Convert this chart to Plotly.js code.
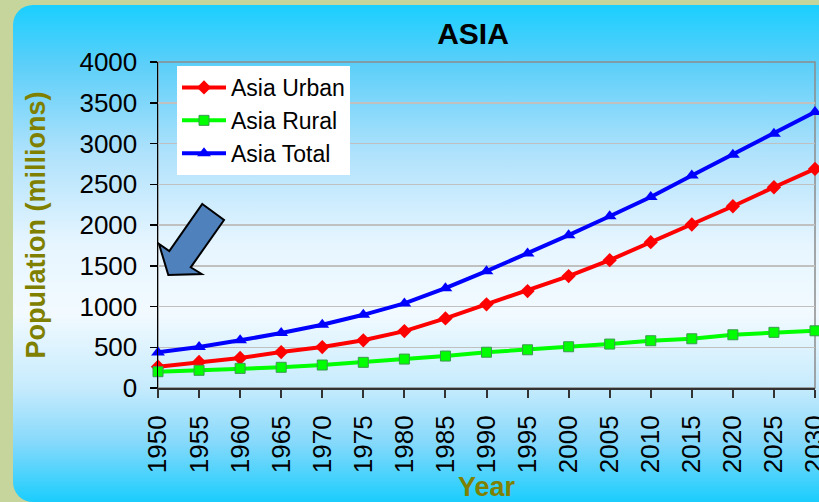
<!DOCTYPE html>
<html>
<head>
<meta charset="utf-8">
<script src="https://cdn.plot.ly/plotly-3.0.1.min.js"></script>
<style>
  html, body { margin:0; padding:0; }
  #wrap { position:relative; width:819px; height:502px; background:#c5d59b; overflow:hidden; }
  #panel { position:absolute; left:13px; top:5px; width:840px; height:497px; border-radius:20px;
    background:linear-gradient(to bottom, #1acfff 0%, #5ccff9 12%, #b0e2fc 30%, #e6f5ff 48%, #f2faff 62%, #c6ebfd 77%, #86d9fb 88%, #1acdfd 100%); }
  #chart { position:absolute; left:0; top:0; width:819px; height:502px; }
</style>
</head>
<body>
<div id="wrap"><div id="panel"></div><div id="chart"></div></div>
<script>
const years = [1950,1955,1960,1965,1970,1975,1980,1985,1990,1995,2000,2005,2010,2015,2020,2025,2030];
const asiaUrban = [261,319,368,441,502,585,698,854,1027,1189,1373,1569,1789,2006,2230,2463,2688];
const asiaRural = [200,217,241,254,282,315,355,392,439,469,506,539,580,604,653,683,702];
const asiaTotal = [437,502,585,674,776,898,1038,1225,1434,1651,1875,2108,2344,2607,2863,3121,3386];
const seriesNames = ['Asia Urban','Asia Rural','Asia Total'];

const W = 819, H = 502;
const M = {l:158, r:4, t:62, b:114};
const pw = W - M.l - M.r, ph = H - M.t - M.b;
function px2paper(x, y){ return [(x - M.l)/pw, (H - M.b - y)/ph]; }
const arrowPx = [[202.3,204],[224,220],[190.7,267.3],[201.7,274],[168.3,275],[159,244],[169.3,251]];
const arrowPath = arrowPx.map((p,i)=>{ const q = px2paper(p[0],p[1]); return (i?'L':'M') + q[0].toFixed(4) + ',' + q[1].toFixed(4); }).join(' ') + ' Z';

const traces = [
  {x: years, y: asiaUrban, name: seriesNames[0], type:'scatter', mode:'lines+markers',
   line:{color:'#ff0000', width:4}, marker:{symbol:'diamond', size:11, color:'#ff0000'}, cliponaxis:false},
  {x: years, y: asiaRural, name: seriesNames[1], type:'scatter', mode:'lines+markers',
   line:{color:'#00ff00', width:4}, marker:{symbol:'square', size:10, color:'#00ff00', line:{color:'#3c9a50', width:1}}, cliponaxis:false},
  {x: years, y: asiaTotal, name: seriesNames[2], type:'scatter', mode:'lines+markers',
   line:{color:'#0000ff', width:4}, marker:{symbol:'triangle-up', size:12, color:'#0000ff'}, cliponaxis:false}
];

const layout = {
  width: W, height: H,
  margin: M,
  paper_bgcolor: 'rgba(0,0,0,0)',
  plot_bgcolor: 'rgba(0,0,0,0)',
  font: {family:'Arial, "Liberation Sans", sans-serif', color:'#000'},
  title: {text:'<b>ASIA</b>', font:{size:30, color:'#000'}, x: 473/W, xanchor:'center', xref:'container', y: 1 - 33/H, yanchor:'middle', yref:'container'},
  showlegend: true,
  legend: {x: (177-M.l)/pw, y: (H-M.b-66)/ph, xanchor:'left', yanchor:'top', bgcolor:'#ffffff', borderwidth:0,
           font:{size:23, color:'#000'}, tracegroupgap:0, itemwidth:44},
  xaxis: {range:[1950,2030], tickmode:'array', tickvals: years, ticktext: years.map(String), tickangle:-90,
          ticks:'outside', ticklen:8, tickcolor:'#333', tickwidth:2, showgrid:false, zeroline:false,
          showline:true, linecolor:'#333', linewidth:2, tickfont:{size:26}, ticklabelstandoff:7,
          ticklabeloverflow:'allow',
          title:{text:'<b>Year</b>', font:{size:27, color:'#808000'}, standoff:2}},
  yaxis: {range:[0,4000], dtick:500, ticks:'outside', ticklen:7, tickcolor:'#000', tickwidth:1.5,
          showgrid:true, gridcolor:'#c0c0c0', gridwidth:1.5, zeroline:false,
          showline:true, linecolor:'#000', linewidth:1.5, tickfont:{size:26}, ticklabelstandoff:7,
          title:{text:'<b>Population (millions)</b>', font:{size:27, color:'#808000'}, standoff:26}},
  shapes: [
    {type:'rect', xref:'paper', yref:'paper', x0:0, x1:1, y0:0, y1:1, line:{color:'#8c8c8c', width:1.5}, fillcolor:'rgba(0,0,0,0)', layer:'below'},
    {type:'path', xref:'paper', yref:'paper', path: arrowPath, fillcolor:'#4f81bd', line:{color:'#000', width:2}, layer:'above'}
  ]
};

Plotly.newPlot('chart', traces, layout, {displayModeBar:false, staticPlot:true});
</script>
</body>
</html>
